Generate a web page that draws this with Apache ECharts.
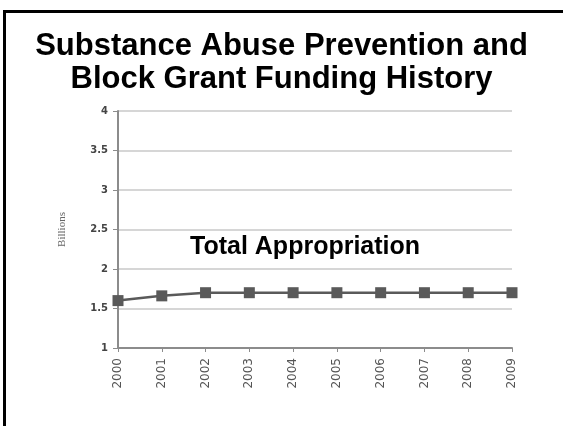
<!DOCTYPE html>
<html>
<head>
<meta charset="utf-8">
<script src="https://cdn.jsdelivr.net/npm/echarts@6/dist/echarts.min.js"></script>
<style>
html,body{margin:0;padding:0;background:#fff;}
#c{width:563px;height:426px;}
</style>
</head>
<body>
<div id="c"></div>
<script>
var years = ['2000','2001','2002','2003','2004','2005','2006','2007','2008','2009'];
var appropriation = [1.60, 1.66, 1.70, 1.70, 1.70, 1.70, 1.70, 1.70, 1.70, 1.70];
var titleText = 'Substance Abuse Prevention and\nBlock Grant Funding History';
var seriesLabel = 'Total Appropriation';
var yAxisName = 'Billions';

var chart = echarts.init(document.getElementById('c'), null, {renderer: 'canvas'});
chart.setOption({
  animation: false,
  backgroundColor: '#fff',
  title: {
    text: titleText,
    left: 'center',
    top: 25,
    textStyle: {
      fontFamily: 'Liberation Sans, Arial, sans-serif',
      fontWeight: 'bold',
      fontSize: 31,
      lineHeight: 33,
      color: '#000'
    }
  },
  graphic: [
    {type: 'rect', shape: {x: 3, y: 10, width: 560, height: 3}, style: {fill: '#000'}},
    {type: 'rect', shape: {x: 3, y: 10, width: 3, height: 416}, style: {fill: '#000'}},
    {type: 'text', left: 190, top: 235, style: {text: seriesLabel, fontFamily: 'Liberation Sans, Arial, sans-serif', fontWeight: 'bold', fontSize: 25, fill: '#000'}}
  ],
  grid: {left: 118, right: 51, top: 111, bottom: 78, containLabel: false},
  xAxis: {
    type: 'category',
    data: years,
    boundaryGap: false,
    axisLine: {lineStyle: {color: '#8c8c8c', width: 2}},
    axisTick: {show: true, alignWithLabel: true, length: 4, lineStyle: {color: '#8c8c8c'}},
    axisLabel: {rotate: 90, margin: 10, fontSize: 12, color: '#555', fontFamily: 'DejaVu Sans, sans-serif'},
    splitLine: {show: false}
  },
  yAxis: {
    type: 'value',
    min: 1,
    max: 4,
    interval: 0.5,
    name: yAxisName,
    nameLocation: 'middle',
    nameGap: 50,
    nameRotate: 90,
    nameTextStyle: {fontSize: 11, color: '#666', fontFamily: 'Liberation Serif, serif'},
    axisLine: {show: true, lineStyle: {color: '#8c8c8c', width: 2}},
    axisTick: {show: true, length: 5, lineStyle: {color: '#8c8c8c'}},
    axisLabel: {fontSize: 10, color: '#444', fontWeight: 'bold', margin: 10, fontFamily: 'DejaVu Sans, sans-serif'},
    splitLine: {lineStyle: {color: '#c8c8c8', width: 1.5}}
  },
  series: [{
    type: 'line',
    data: appropriation,
    symbol: 'rect',
    symbolSize: 11,
    lineStyle: {color: '#5a5a5a', width: 2.5},
    itemStyle: {color: '#5a5a5a'}
  }]
});
</script>
</body>
</html>
